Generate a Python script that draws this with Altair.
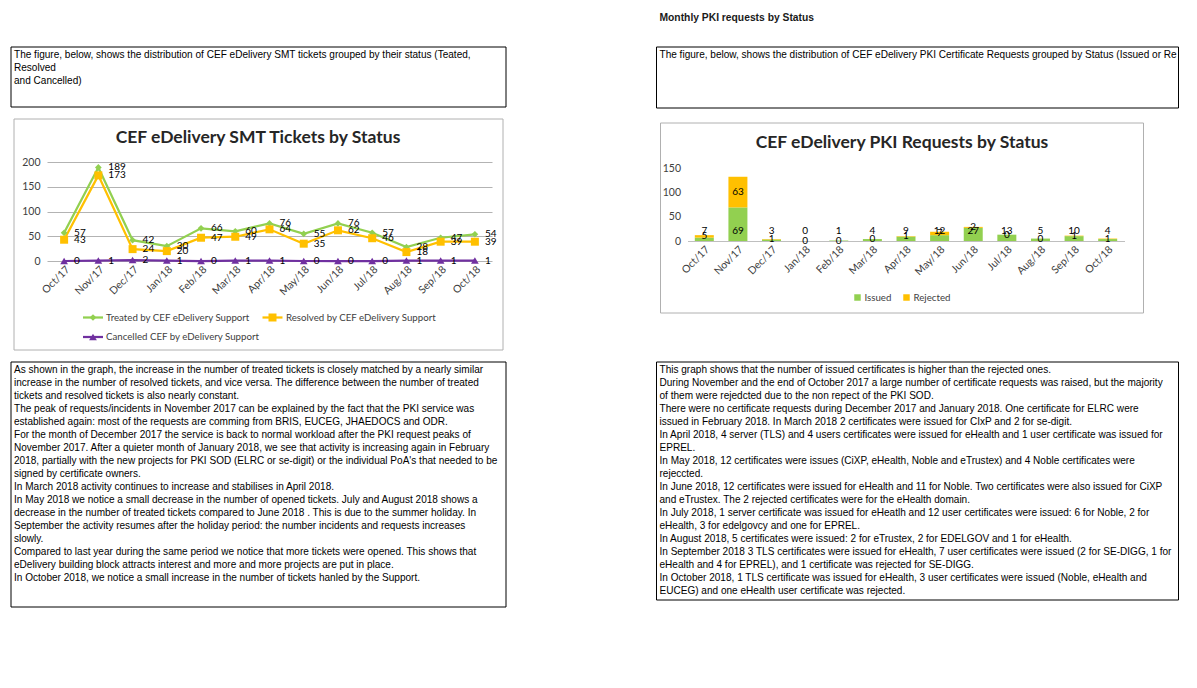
import altair as alt
import pandas as pd

# ---------------- data ----------------
months = ["Oct/17", "Nov/17", "Dec/17", "Jan/18", "Feb/18", "Mar/18", "Apr/18",
          "May/18", "Jun/18", "Jul/18", "Aug/18", "Sep/18", "Oct/18"]

treated = [57, 189, 42, 30, 66, 60, 76, 55, 76, 57, 28, 47, 54]
resolved = [43, 173, 24, 20, 47, 49, 64, 35, 62, 46, 18, 39, 39]
cancelled = [0, 1, 2, 1, 0, 1, 1, 0, 0, 0, 1, 1, 1]
smt_series = ["Treated by CEF eDelivery Support",
              "Resolved by CEF eDelivery Support",
              "Cancelled CEF by eDelivery Support"]

issued = [7, 69, 3, 0, 1, 4, 9, 12, 27, 13, 5, 10, 4]
rejected = [5, 63, 1, 0, 0, 0, 1, 7, 2, 0, 0, 1, 1]
pki_status = ["Issued", "Rejected"]

smt_title = "CEF eDelivery SMT Tickets by Status"
pki_title = "CEF eDelivery PKI Requests by Status"
pki_header = "Monthly PKI requests by Status"

left_intro = [
    "The figure, below, shows the distribution of CEF eDelivery SMT tickets grouped by their status (Teated,",
    "Resolved",
    "and Cancelled)",
]
left_body = [
    "As shown in the graph, the increase in the number of treated tickets is closely matched by a nearly similar",
    "increase in the number of resolved tickets, and vice versa. The difference between the number of treated",
    "tickets and resolved tickets is also nearly constant.",
    "The peak of requests/incidents in November 2017 can be explained by the fact that the PKI service was",
    "established again: most of the requests are comming  from BRIS, EUCEG, JHAEDOCS and ODR.",
    "For the month of December 2017 the service is back to normal workload after the PKI request peaks of",
    "November 2017. After a quieter month of January 2018, we see that activity is increasing again in February",
    "2018, partially with the new projects for PKI SOD  (ELRC or se-digit) or the individual PoA's that needed to be",
    "signed by certificate owners.",
    "In March 2018 activity continues to increase and stabilises in April  2018.",
    "In May 2018 we notice a small decrease in the number of opened tickets. July and August 2018 shows a",
    "decrease in the number of treated tickets compared to June 2018 . This is due to the summer holiday. In",
    "September the activity resumes after the holiday period: the number incidents and requests increases",
    "slowly.",
    "Compared to last year during the same period we notice that more tickets were opened. This shows that",
    "eDelivery building block attracts interest and  more and more projects are put in place.",
    "In October 2018, we notice a small increase in the number of tickets hanled by the Support.",
]
right_intro = [
    "The figure, below, shows the distribution of CEF eDelivery PKI Certificate Requests grouped by Status (Issued or Rejected)",
]
right_body = [
    "This graph shows that the number of issued certificates is higher than the rejected ones.",
    "During November and the end of October 2017 a large number of certificate requests was raised, but the majority",
    "of them were rejedcted due to the non repect of the PKI SOD.",
    "There were no certificate requests during December 2017 and January 2018. One certificate for ELRC were",
    "issued in February 2018. In March 2018 2 certificates were issued for CIxP and 2 for se-digit.",
    "In April 2018, 4  server (TLS) and 4 users certificates were issued for eHealth and  1 user certificate was issued for",
    "EPREL.",
    "In May 2018, 12 certificates were issues (CiXP, eHealth, Noble and eTrustex) and 4 Noble certificates were",
    "rejeccted.",
    "In June 2018, 12 certificates were issued for eHealth and 11 for Noble. Two certificates were also issued for CiXP",
    "and eTrustex. The 2 rejected certificates were for the eHealth domain.",
    "In July 2018, 1 server certificate was issued for eHeatlh  and 12 user certificates were issued: 6 for Noble, 2 for",
    "eHealth, 3 for edelgovcy and one for EPREL.",
    "In August 2018, 5 certificates were issued: 2 for eTrustex, 2 for EDELGOV and 1 for eHealth.",
    "In September 2018 3 TLS certificates were issued for eHealth, 7 user certificates were issued (2 for SE-DIGG, 1 for",
    "eHealth and 4 for EPREL), and 1 certificate was rejected for SE-DIGG.",
    "In October 2018, 1 TLS certificate was issued for eHealth, 3 user certificates were issued (Noble, eHealth and",
    "EUCEG) and one eHealth user certificate was rejected.",
]

# ---------------- tables ----------------
smt_df = pd.DataFrame(
    [{"month": m, "series": s, "value": v}
     for s, vals in zip(smt_series, [treated, resolved, cancelled])
     for m, v in zip(months, vals)]
)
pki_long = pd.DataFrame(
    [{"month": m, "status": st, "count": v, "order": k}
     for k, (st, vals) in enumerate(zip(pki_status, [issued, rejected]))
     for m, v in zip(months, vals)]
)
pki_wide = pd.DataFrame({"month": months, "issued": issued, "rejected": rejected})
one = pd.DataFrame({"k": [0]})

# ---------------- styles ----------------
CHART_FONT = "Lato"
BOX_FONT = "Liberation Sans"
BOX_SIZE = 10.05
AXIS_SIZE = 10.5
LABEL_SIZE = 10
LEGEND_SIZE = 9.7
TITLE_SIZE = 17.5
AXIS_GREY = "#404040"
SMT_COLORS = ["#92d050", "#ffc000", "#7030a0"]
PKI_COLORS = ["#92d050", "#ffc000"]
MARKERS = [("diamond", 45), ("square", 64), ("triangle-up", 60)]

L_ORIG = (47, 162)   # page position of the SMT plot area
R_ORIG = (687, 168)  # page position of the PKI plot area


def rect(x0, y0, x1, y1, org, stroke, opacity=1):
    ox, oy = org
    return alt.Chart(one).mark_rect(fillOpacity=0, stroke=stroke, strokeWidth=1,
                                    opacity=opacity).encode(
        x=alt.value(x0 - ox), x2=alt.value(x1 - ox),
        y=alt.value(y0 - oy), y2=alt.value(y1 - oy))


def text_block(lines, x, y, org, size=BOX_SIZE, font=BOX_FONT, weight="normal",
               limit=0, align="left", baseline="alphabetic", color="black"):
    ox, oy = org
    kw = dict(text=lines, align=align, baseline=baseline, font=font, fontSize=size,
              fontWeight=weight, color=color, lineHeight=13)
    if limit:
        kw["limit"] = limit
        kw["ellipsis"] = " "
    return alt.Chart(one).mark_text(**kw).encode(x=alt.value(x - ox), y=alt.value(y - oy))


def legend_item(name, color, shape, size, x_sym, y, x_text, org, line_half=0):
    ox, oy = org
    df = pd.DataFrame({"name": [name]})
    parts = []
    if line_half:
        parts.append(alt.Chart(df).mark_rule(color=color, strokeWidth=2.25).encode(
            x=alt.value(x_sym - line_half - ox), x2=alt.value(x_sym + line_half - ox),
            y=alt.value(y - oy)))
    parts.append(alt.Chart(df).mark_point(shape=shape, size=size, filled=True, opacity=1,
                                          color=color).encode(
        x=alt.value(x_sym - ox), y=alt.value(y - oy)))
    parts.append(alt.Chart(df).mark_text(align="left", baseline="middle", font=CHART_FONT,
                                         fontSize=LEGEND_SIZE, color=AXIS_GREY).encode(
        x=alt.value(x_text - ox), y=alt.value(y - oy), text="name:N"))
    return parts


# ---------------- left: SMT tickets ----------------
x_smt = alt.X("month:N", sort=months, title=None,
              axis=alt.Axis(labelAngle=315, labelAlign="right", labelBaseline="top",
                            labelPadding=3, domain=False, ticks=False, grid=False,
                            labelFont=CHART_FONT, labelFontSize=AXIS_SIZE, labelColor=AXIS_GREY))
y_smt = alt.Y("value:Q", title=None, scale=alt.Scale(domain=[0, 200]),
              axis=alt.Axis(values=[0, 50, 100, 150, 200], domain=False, ticks=False,
                            grid=True, gridColor="#b3b3b3", labelPadding=7,
                            labelFont=CHART_FONT, labelFontSize=AXIS_SIZE, labelColor=AXIS_GREY))
smt_color_scale = alt.Scale(domain=smt_series, range=SMT_COLORS)

smt_lines = alt.Chart(smt_df).mark_line(strokeWidth=2.25).encode(
    x=x_smt, y=y_smt, color=alt.Color("series:N", scale=smt_color_scale, legend=None))

smt_points = [
    alt.Chart(smt_df).transform_filter(alt.datum.series == s).mark_point(
        shape=shp, size=sz, filled=True, opacity=1, color=c).encode(x=x_smt, y=y_smt)
    for s, (shp, sz), c in zip(smt_series, MARKERS, SMT_COLORS)
]
smt_labels = alt.Chart(smt_df).mark_text(
    align="left", baseline="middle", dx=10, font=CHART_FONT, fontSize=LABEL_SIZE, color="black"
).encode(x=x_smt, y=y_smt, text="value:Q")

smt_legend_pos = [(93, 317.5, 106), (272.5, 317.5, 286), (93, 337, 106)]
smt_legend = []
for s, c, (shp, sz), (xs, ys, xt) in zip(smt_series, SMT_COLORS, MARKERS, smt_legend_pos):
    smt_legend += legend_item(s, c, shp, sz, xs, ys, xt, L_ORIG, line_half=10)

left = alt.layer(
    rect(8, 8, 9, 9, L_ORIG, "white", opacity=0),
    rect(11, 47, 506, 107, L_ORIG, "black"),
    text_block(left_intro, 14, 57.5, L_ORIG),
    rect(14, 119, 503, 350, L_ORIG, "#b0b0b0"),
    text_block([smt_title], 258, 138, L_ORIG, size=TITLE_SIZE, font=CHART_FONT, weight="bold",
               align="center", baseline="middle", color="#262626"),
    rect(11, 362, 506, 607, L_ORIG, "black"),
    text_block(left_body, 14, 372.5, L_ORIG),
    *smt_legend,
    smt_lines,
    *smt_points,
    smt_labels,
).properties(width=445, height=99)

# ---------------- right: PKI requests ----------------
x_pki = alt.X("month:N", sort=months, title=None,
              scale=alt.Scale(paddingInner=0.435, paddingOuter=0.2175),
              axis=alt.Axis(labelAngle=315, labelAlign="right", labelBaseline="top",
                            labelPadding=3, domain=True, domainColor="#bfbfbf", ticks=False,
                            grid=False, labelFont=CHART_FONT, labelFontSize=AXIS_SIZE,
                            labelColor=AXIS_GREY))
pki_y_scale = alt.Scale(domain=[0, 150])
pki_y_axis = alt.Axis(values=[0, 50, 100, 150], domain=False, ticks=False, grid=False,
                      labelPadding=7, labelFont=CHART_FONT, labelFontSize=AXIS_SIZE,
                      labelColor=AXIS_GREY)
y_pki = alt.Y("count:Q", stack="zero", title=None, scale=pki_y_scale, axis=pki_y_axis)
pki_color_scale = alt.Scale(domain=pki_status, range=PKI_COLORS)

pki_bars = alt.Chart(pki_long).mark_bar().encode(
    x=x_pki, y=y_pki,
    color=alt.Color("status:N", scale=pki_color_scale, legend=None),
    order=alt.Order("order:Q"))

issued_labels = alt.Chart(pki_wide).mark_text(
    align="center", baseline="middle", font=CHART_FONT, fontSize=LABEL_SIZE, color="black"
).encode(x=x_pki, y=alt.value(62.8), text="issued:Q")

rejected_labels = alt.Chart(pki_wide).transform_calculate(
    mid="datum.issued + datum.rejected / 2").mark_text(
    align="center", baseline="middle", font=CHART_FONT, fontSize=LABEL_SIZE, color="black"
).encode(x=x_pki, y=alt.Y("mid:Q", scale=pki_y_scale, axis=pki_y_axis, title=None),
         text="rejected:Q")

pki_legend_pos = [(857, 297.5, 864), (906, 297.5, 913)]
pki_legend = []
for s, c, (xs, ys, xt) in zip(pki_status, PKI_COLORS, pki_legend_pos):
    pki_legend += legend_item(s, c, "square", 42, xs, ys, xt, R_ORIG)

right = alt.layer(
    text_block([pki_header], 659, 21, R_ORIG, size=10.3, font="Liberation Sans", weight="bold",
               color="#1a1a1a"),
    rect(656, 47, 1178, 108, R_ORIG, "black"),
    text_block(right_intro, 659, 57.5, R_ORIG, limit=521),
    rect(660, 123, 1143, 313, R_ORIG, "#b0b0b0"),
    text_block([pki_title], 901.5, 143, R_ORIG, size=TITLE_SIZE, font=CHART_FONT, weight="bold",
               align="center", baseline="middle", color="#262626"),
    rect(656, 362, 1178, 600, R_ORIG, "black"),
    text_block(right_body, 659, 372.5, R_ORIG),
    *pki_legend,
    pki_bars,
    issued_labels,
    rejected_labels,
).properties(width=437, height=73)

spacer = alt.Chart(one).mark_point(opacity=0).properties(width=437, height=6)
right_col = alt.vconcat(spacer, right, spacing=0, bounds="flush")

chart = alt.hconcat(left, right_col, spacing=195.5, bounds="flush").properties(
    padding=0, background="white").configure_view(strokeWidth=0)

chart.save("out.html", embed_options={"renderer": "svg", "actions": False})
